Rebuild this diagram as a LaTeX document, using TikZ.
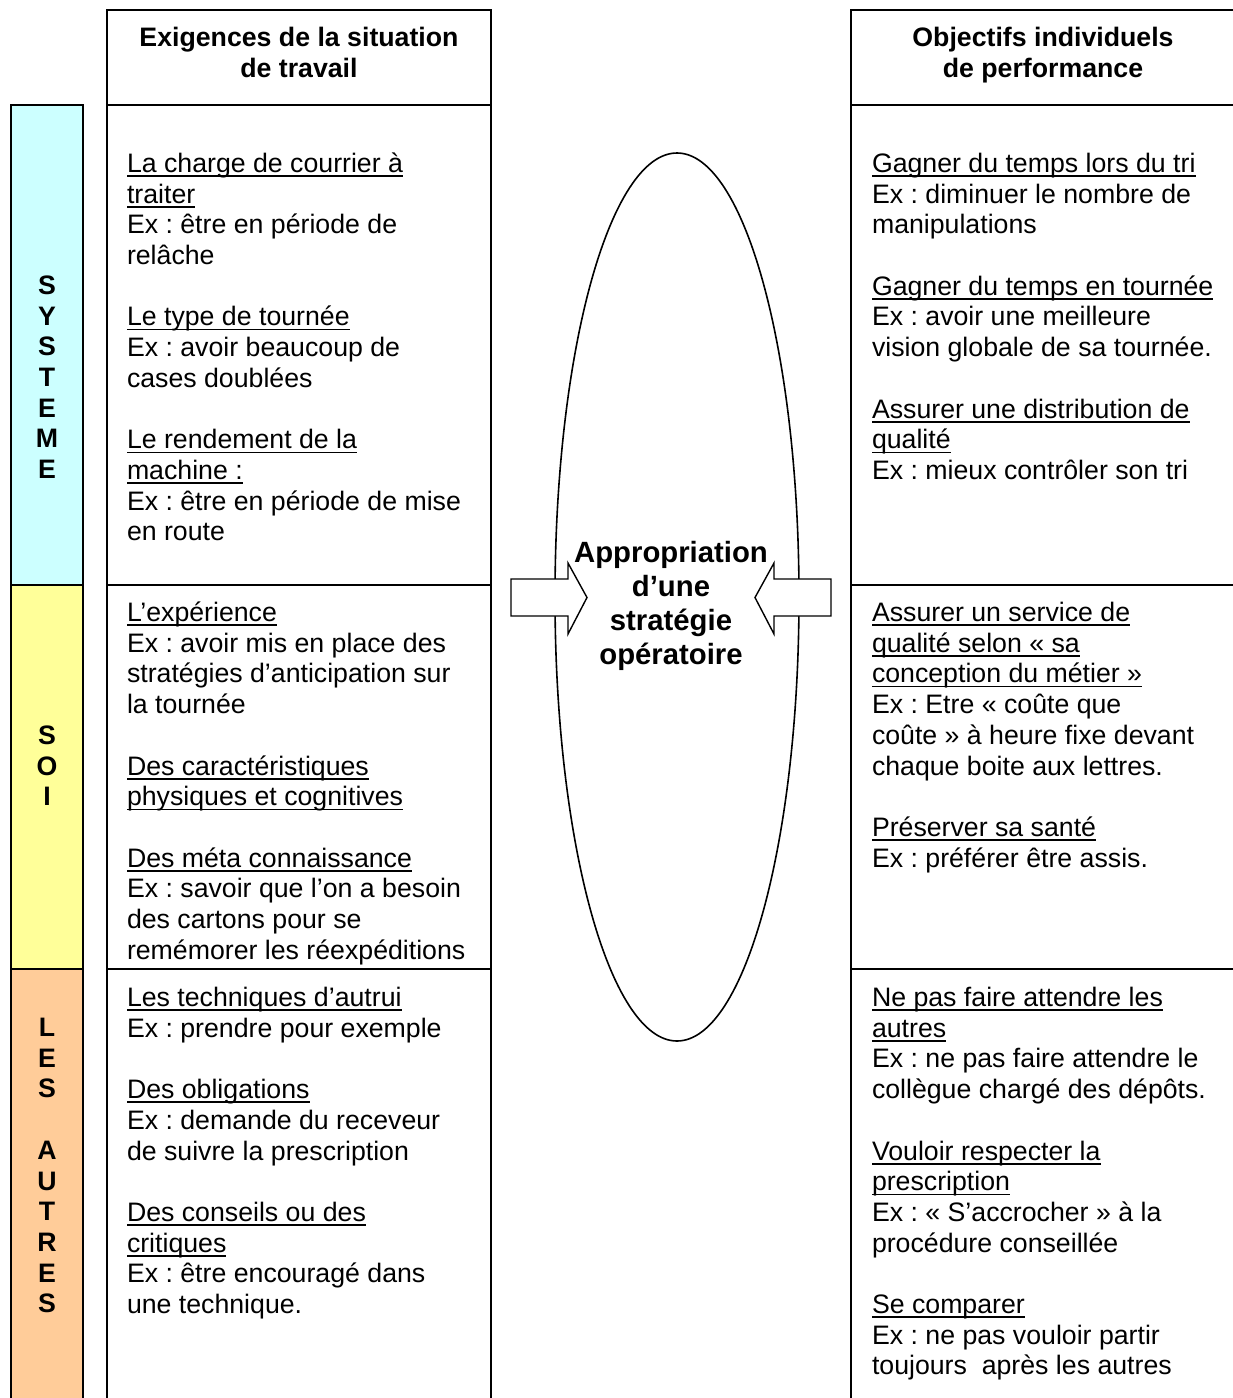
\documentclass[tikz,border=0pt]{standalone}
\usepackage{fontspec}
\setmainfont{Liberation Sans}
\frenchspacing
\newsavebox\ulbox
\newcommand\ulx[1]{\sbox\ulbox{#1}\rlap{\rule[-4.5pt]{\wd\ulbox}{1.7pt}}\usebox\ulbox}
\definecolor{barcyan}{HTML}{CCFFFF}
\definecolor{baryellow}{HTML}{FFFF99}
\definecolor{barorange}{HTML}{FFCC99}
\newcommand\bodyfnt{\fontsize{26.7}{30.7}\selectfont\frenchspacing}
\newcommand\headfnt{\fontsize{26.7}{30.7}\selectfont\bfseries}
\newcommand\ctrfnt{\fontsize{29.3}{34}\selectfont\bfseries}
\tikzset{
  bodytext/.style={anchor=north west, inner sep=0pt, outer sep=0pt, align=left, font=\bodyfnt},
  headtext/.style={anchor=north, inner sep=0pt, outer sep=0pt, align=center, font=\headfnt},
  ctrtext/.style={anchor=north, inner sep=0pt, outer sep=0pt, align=center, font=\ctrfnt},
  frameline/.style={line width=1.6pt, draw=black},
  barbox/.style={line width=1.6pt, draw=black},
  blockarrow/.style={line width=1.4pt, draw=black, fill=white, line join=miter},
}
\begin{document}
\begin{tikzpicture}[x=1pt, y=-1pt]
\useasboundingbox (0,0) rectangle (1232,1398);
\fill[white] (0,0) rectangle (1232,1398);

% side bars
\draw[barbox, fill=barcyan] (11,105) rectangle (83,585);
\draw[barbox, fill=baryellow] (11,585) rectangle (83,969);
\draw[barbox, fill=barorange] (11,969) rectangle (83,1410);

% left frame
\draw[frameline] (107,1410) -- (107,10) -- (491,10) -- (491,1410);
\draw[frameline] (107,105) -- (491,105);
\draw[frameline] (107,585) -- (491,585);
\draw[frameline] (107,969) -- (491,969);

% right frame
\draw[frameline] (851,1410) -- (851,10) -- (1240,10);
\draw[frameline] (851,105) -- (1240,105);
\draw[frameline] (851,585) -- (1240,585);
\draw[frameline] (851,969) -- (1240,969);

% headers
\node[headtext] (hleft) at (299,25) {\strut Exigences de la situation\\de travail};
\node[headtext] (hright) at (1043,25) {\strut Objectifs individuels\\de performance};

% side letters
\node[headtext] (ssys) at (47,273) {\strut S\\Y\\S\\T\\E\\M\\E};
\node[headtext] (ssoi) at (47,723) {\strut S\\O\\I};
\node[headtext] (sautres) at (47,1015) {\strut L\\E\\S\\[30.7pt]A\\U\\T\\R\\E\\S};

% left column texts
\node[bodytext] (la) at (127,151) {\strut\ulx{La charge de courrier à}\\
\ulx{traiter}\\
Ex : être en période de\\
relâche\\[30.7pt]
\ulx{Le type de tournée}\\
Ex : avoir beaucoup de\\
cases doublées\\[30.7pt]
\ulx{Le rendement de la}\\
\ulx{machine :}\\
Ex : être en période de mise\\
en route};

\begin{scope}
\clip (107,585) rectangle (491,968);
\node[bodytext] (lb) at (127,600) {\strut\ulx{L’expérience}\\
Ex : avoir mis en place des\\
stratégies d’anticipation sur\\
la tournée\\[30.7pt]
\ulx{Des caractéristiques}\\
\ulx{physiques et cognitives}\\[30.7pt]
\ulx{Des méta connaissance}\\
Ex : savoir que l’on a besoin\\
des cartons pour se\\
remémorer les réexpéditions};
\end{scope}

\node[bodytext] (lc) at (127,985) {\strut\ulx{Les techniques d’autrui}\\
Ex : prendre pour exemple\\[30.7pt]
\ulx{Des obligations}\\
Ex : demande du receveur\\
de suivre la prescription\\[30.7pt]
\ulx{Des conseils ou des}\\
\ulx{critiques}\\
Ex : être encouragé dans\\
une technique.};

% right column texts
\node[bodytext] (ra) at (872,151) {\strut\ulx{Gagner du temps lors du tri}\\
Ex : diminuer le nombre de\\
manipulations\\[30.7pt]
\ulx{Gagner du temps en tournée}\\
Ex : avoir une meilleure\\
vision globale de sa tournée.\\[30.7pt]
\ulx{Assurer une distribution de}\\
\ulx{qualité}\\
Ex : mieux contrôler son tri};

\node[bodytext] (rb) at (872,600) {\strut\ulx{Assurer un service de}\\
\ulx{qualité selon « sa}\\
\ulx{conception du métier »}\\
Ex : Etre « coûte que\\
coûte » à heure fixe devant\\
chaque boite aux lettres.\\[30.7pt]
\ulx{Préserver sa santé}\\
Ex : préférer être assis.};

\node[bodytext] (rc) at (872,985) {\strut\ulx{Ne pas faire attendre les}\\
\ulx{autres}\\
Ex : ne pas faire attendre le\\
collègue chargé des dépôts.\\[30.7pt]
\ulx{Vouloir respecter la}\\
\ulx{prescription}\\
Ex : « S’accrocher » à la\\
procédure conseillée\\[30.7pt]
\ulx{Se comparer}\\
Ex : ne pas vouloir partir\\
toujours\ \ après les autres};

% central ellipse
\draw[line width=1.6pt] (677,597) ellipse [x radius=122, y radius=444];

% block arrows
\draw[blockarrow] (511,579) -- (568,579) -- (568,563) -- (587,597.5) -- (568,634) -- (568,616) -- (511,616) -- cycle;
\draw[blockarrow] (831,579) -- (774,579) -- (774,563) -- (755,597.5) -- (774,634) -- (774,616) -- (831,616) -- cycle;

% central text
\node[ctrtext] (ctr) at (671,539) {\strut Appropriation\\d’une\\stratégie\\opératoire};
\end{tikzpicture}
\end{document}
